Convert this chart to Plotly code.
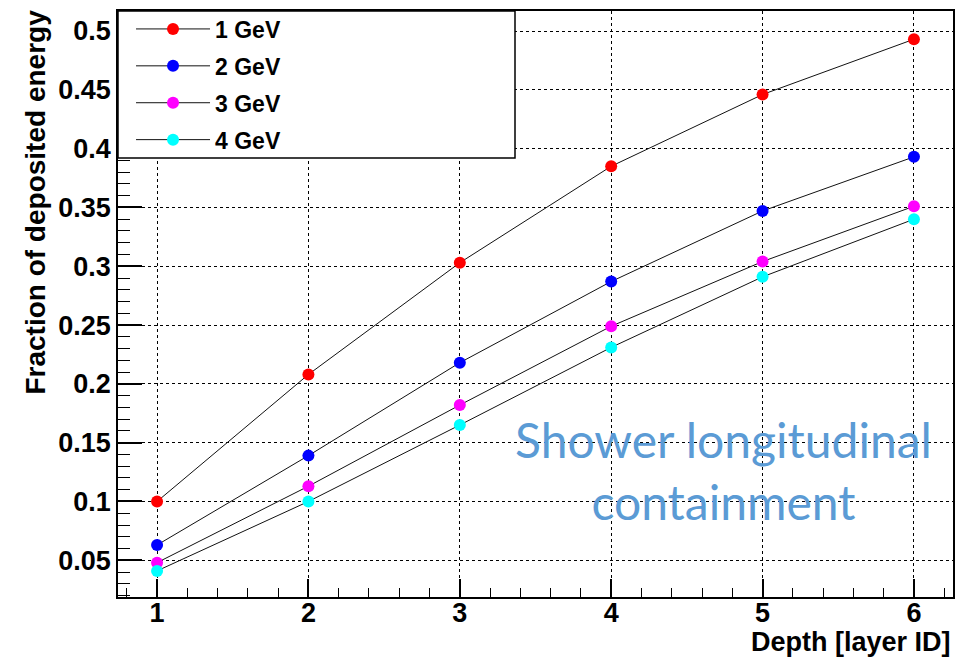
import plotly.graph_objects as go

depth = [1, 2, 3, 4, 5, 6]
e1 = [0.100, 0.208, 0.303, 0.385, 0.446, 0.493]
e2 = [0.063, 0.139, 0.218, 0.287, 0.347, 0.393]
e3 = [0.048, 0.113, 0.182, 0.249, 0.304, 0.351]
e4 = [0.041, 0.100, 0.165, 0.231, 0.291, 0.340]
names = ["1 GeV", "2 GeV", "3 GeV", "4 GeV"]
colors = ["#ff0000", "#0000ff", "#ff00ff", "#00ffff"]
series = [e1, e2, e3, e4]

FONT = "Liberation Sans"

fig = go.Figure()
for i, (nm, c, ys) in enumerate(zip(names, colors, series)):
    fig.add_trace(go.Scatter(
        x=depth, y=ys, name=nm, mode="lines+markers",
        line=dict(color="#111111", width=1),
        marker=dict(color=c, size=12, line=dict(width=0)),
        legendgroup=f"g{i}",
    ))

fig.update_layout(
    width=963, height=660,
    margin=dict(l=118, r=10, t=7, b=63),
    paper_bgcolor="white", plot_bgcolor="white",
    font=dict(family=FONT, color="black"),
    showlegend=True,
    legend=dict(
        x=0.0156, y=1.006, xanchor="left", yanchor="top",
        bgcolor="rgba(0,0,0,0)", borderwidth=0,
        font=dict(family=FONT, size=23, weight="bold"),
        itemwidth=74, tracegroupgap=4, traceorder="grouped",
    ),
    shapes=[dict(type="rect", xref="paper", yref="paper",
                 x0=0, x1=397/835, y0=(597-155)/590, y1=1,
                 line=dict(color="black", width=1.5), fillcolor="white",
                 layer="above")],
)

fig.update_xaxes(
    range=[0.742, 6.258], dtick=1, tick0=0,
    ticks="inside", ticklen=18, tickwidth=1.5, tickcolor="black",
    minor=dict(dtick=0.2, tick0=0, ticks="inside", ticklen=9, tickwidth=1.2, tickcolor="black", showgrid=False),
    showgrid=True, gridcolor="black", griddash="dot", gridwidth=1,
    showline=True, linecolor="black", linewidth=1.5, mirror=True,
    zeroline=False, ticklabelstandoff=-9,
    tickfont=dict(family=FONT, size=27, weight="bold"),
)
fig.update_yaxes(
    range=[0.0188, 0.517], dtick=0.05, tick0=0,
    ticks="inside", ticklen=24, tickwidth=1.5, tickcolor="black",
    minor=dict(dtick=0.01, tick0=0, ticks="inside", ticklen=12, tickwidth=1.2, tickcolor="black", showgrid=False),
    showgrid=True, gridcolor="black", griddash="dot", gridwidth=1,
    showline=True, linecolor="black", linewidth=1.5, mirror=True,
    zeroline=False,
    tickfont=dict(family=FONT, size=27, weight="bold"),
)

fig.add_annotation(
    text="Fraction of deposited energy", textangle=-90,
    xref="paper", yref="paper", x=(36-118)/835, y=1.005,
    xanchor="center", yanchor="top", showarrow=False,
    font=dict(family=FONT, size=28, weight="bold", color="black"),
)
fig.add_annotation(
    text="Depth [layer ID]",
    xref="paper", yref="paper", x=1.0, y=(597-642)/590,
    xanchor="right", yanchor="middle", showarrow=False,
    font=dict(family=FONT, size=27, weight="bold", color="black"),
)
fig.add_annotation(
    text="Shower longitudinal<br>containment",
    xref="paper", yref="paper", x=(723-118)/835, y=(597-470)/590,
    xanchor="center", yanchor="middle", showarrow=False,
    font=dict(family="Lato", size=48, color="#5b9bd5"),
)

fig.write_html("out.html")
